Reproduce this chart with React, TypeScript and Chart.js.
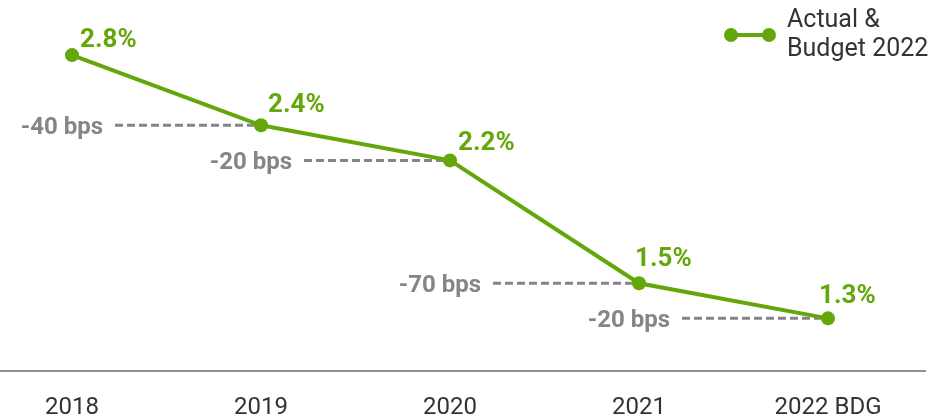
import React, { useEffect, useRef } from "react";
import { Chart, registerables } from "chart.js";

Chart.register(...registerables);

const categories = ["2018", "2019", "2020", "2021", "2022 BDG"];
const rateValues = [2.8, 2.4, 2.2, 1.5, 1.3];
const rateLabels = ["2.8%", "2.4%", "2.2%", "1.5%", "1.3%"];
const changeLabels = ["-40 bps", "-20 bps", "-70 bps", "-20 bps"];
const seriesName = ["Actual &", "Budget 2022"];

const GREEN = "#64a70b";
const GREY = "#858585";
const TEXT = "#333333";
const FONT = "Roboto, 'Noto Sans', sans-serif";

// label offsets relative to each point (left edge, baseline)
const labelOffsets: [number, number][] = [
  [8, -8],
  [7, -13],
  [8, -10],
  [-4, -17],
  [-9, -15],
];

const annotationPlugin = {
  id: "annotations",
  beforeDatasetsDraw(chart: any) {
    const { ctx, chartArea } = chart;
    const meta = chart.getDatasetMeta(0);
    const pts = meta.data;
    ctx.save();
    ctx.strokeStyle = "#8f8f8f";
    ctx.lineWidth = 2;
    ctx.beginPath();
    ctx.moveTo(0, chartArea.bottom);
    ctx.lineTo(926, chartArea.bottom);
    ctx.stroke();
    for (let i = 1; i < pts.length; i++) {
      const prev = pts[i - 1];
      const cur = pts[i];
      ctx.setLineDash([8, 4]);
      ctx.strokeStyle = GREY;
      ctx.lineWidth = 3;
      ctx.beginPath();
      ctx.moveTo(prev.x + 43, cur.y);
      ctx.lineTo(cur.x, cur.y);
      ctx.stroke();
      ctx.setLineDash([]);
      ctx.fillStyle = GREY;
      ctx.font = `bold 24px ${FONT}`;
      ctx.textAlign = "right";
      ctx.textBaseline = "alphabetic";
      ctx.fillText(changeLabels[i - 1], prev.x + 31, cur.y + 8.5);
    }
    ctx.restore();
  },
  afterDatasetsDraw(chart: any) {
    const { ctx } = chart;
    const meta = chart.getDatasetMeta(0);
    ctx.save();
    ctx.fillStyle = GREEN;
    ctx.font = `bold 26px ${FONT}`;
    ctx.textAlign = "left";
    ctx.textBaseline = "alphabetic";
    meta.data.forEach((p: any, i: number) => {
      const [dx, dy] = labelOffsets[i];
      ctx.fillText(rateLabels[i], p.x + dx, p.y + dy);
    });
    ctx.strokeStyle = GREEN;
    ctx.lineWidth = 4;
    ctx.beginPath();
    ctx.moveTo(731, 35);
    ctx.lineTo(769, 35);
    ctx.stroke();
    ctx.fillStyle = GREEN;
    [731, 769].forEach((x) => {
      ctx.beginPath();
      ctx.arc(x, 35, 7, 0, Math.PI * 2);
      ctx.fill();
    });
    ctx.fillStyle = TEXT;
    ctx.font = `25px ${FONT}`;
    ctx.textBaseline = "middle";
    seriesName.forEach((t, i) => {
      ctx.fillText(t, 787, 21 + i * 29);
    });
    ctx.restore();
  },
};

export default function App() {
  const canvasRef = useRef<HTMLCanvasElement | null>(null);

  useEffect(() => {
    document.body.style.margin = "0";
    const canvas = canvasRef.current;
    if (!canvas) return;
    const chart = new Chart(canvas, {
      type: "line",
      data: {
        labels: categories,
        datasets: [
          {
            label: seriesName.join(" "),
            data: rateValues,
            borderColor: GREEN,
            backgroundColor: GREEN,
            borderWidth: 4,
            pointRadius: 7,
            pointBorderWidth: 0,
            pointBackgroundColor: GREEN,
            tension: 0,
            clip: false as any,
          },
        ],
      },
      options: {
        responsive: true,
        maintainAspectRatio: false,
        animation: false,
        layout: { padding: { left: 72, right: 103, top: 20, bottom: -29 } },
        plugins: {
          legend: { display: false },
          tooltip: { enabled: false },
        },
        scales: {
          y: { display: false, min: 1, max: 3 },
          x: {
            offset: false,
            grid: { display: false, drawTicks: false },
            border: { display: false },
            ticks: {
              autoSkip: false,
              maxRotation: 0,
              padding: 25,
              color: TEXT,
              font: { family: FONT, size: 24, lineHeight: 1 },
            },
          },
        },
      },
      plugins: [annotationPlugin],
    });
    return () => chart.destroy();
  }, []);

  return (
    <div style={{ width: 931, height: 416, position: "relative" }}>
      <canvas ref={canvasRef} />
    </div>
  );
}
